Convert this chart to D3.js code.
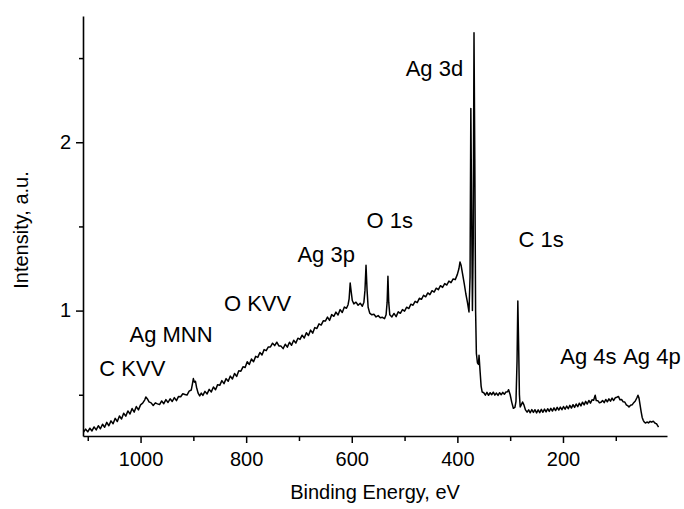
<!DOCTYPE html>
<html>
<head>
<meta charset="utf-8">
<script src="https://cdn.jsdelivr.net/npm/d3@7"></script>
<style>
  body { margin: 0; background: #fff; }
  svg { display: block; font-family: Arial, "Liberation Sans", sans-serif; }
</style>
</head>
<body>
<svg id="chart"></svg>
<script>
// XPS survey: [binding energy (eV), intensity (a.u.)]
const spectrum = [
  [1108, .279], [1104, .296], [1100, .280], [1096, .301], [1092, .285], [1088, .309], [1084, .291],
  [1080, .316], [1076, .298], [1072, .325], [1068, .307], [1064, .336], [1060, .316], [1056, .345],
  [1052, .328], [1048, .360], [1044, .341], [1040, .374], [1036, .356], [1032, .390], [1028, .373],
  [1024, .404], [1020, .386], [1016, .418], [1012, .397], [1008, .430], [1004, .410], [1000, .440],
  [996, .450], [992, .470], [990, .487], [987, .475], [984, .458], [980, .452], [976, .436],
  [972, .452], [968, .446], [964, .442], [960, .463], [956, .447], [952, .471], [948, .454],
  [944, .476], [940, .460], [936, .483], [932, .465], [928, .490], [924, .488], [920, .506],
  [916, .502], [912, .498], [908, .522], [904, .528], [902, .560], [900, .596], [898, .575],
  [896, .580], [894, .545], [891, .510], [888, .493], [885, .510], [882, .496], [878, .520],
  [874, .505], [870, .532], [866, .517], [862, .546], [858, .530], [854, .560], [850, .556],
  [846, .584], [842, .566], [838, .596], [834, .580], [830, .611], [826, .594], [822, .626],
  [818, .609], [814, .642], [810, .640], [806, .666], [802, .662], [798, .696], [794, .680],
  [790, .712], [786, .696], [782, .728], [778, .722], [774, .751], [770, .736], [766, .768],
  [762, .762], [758, .784], [754, .784], [750, .806], [746, .792], [742, .812], [738, .790],
  [734, .789], [730, .774], [726, .800], [722, .783], [718, .812], [714, .794], [710, .824],
  [706, .807], [702, .836], [698, .829], [694, .854], [690, .837], [686, .868], [682, .852],
  [678, .884], [674, .866], [670, .899], [666, .894], [662, .921], [658, .914], [654, .939],
  [650, .938], [646, .961], [642, .942], [638, .976], [634, .966], [630, .991], [626, .974],
  [622, 1.006], [618, .989], [614, 1.021], [610, 1.014], [607, 1.035], [605, 1.070], [603, 1.164],
  [601, 1.110], [599, 1.060], [596, 1.040], [592, 1.050], [588, 1.032], [584, 1.044], [580, 1.026],
  [577, 1.050], [575, 1.120], [573, 1.269], [571, 1.120], [569, 1.020], [566, .985], [562, .975],
  [558, .978], [554, .962], [550, .970], [546, .957], [542, .960], [538, .952], [535, .975],
  [533, 1.050], [531.5, 1.204], [530, 1.050], [528, .975], [524, .962], [520, .983], [516, .964],
  [512, .993], [508, .984], [504, 1.006], [500, .997], [496, 1.020], [492, 1.012], [488, 1.038],
  [484, 1.032], [480, 1.055], [476, 1.047], [472, 1.073], [468, 1.067], [464, 1.091], [460, 1.082],
  [456, 1.105], [452, 1.095], [448, 1.118], [444, 1.110], [440, 1.133], [436, 1.124], [432, 1.148],
  [428, 1.138], [424, 1.160], [420, 1.152], [416, 1.175], [412, 1.166], [408, 1.188], [404, 1.184],
  [400, 1.215], [397, 1.250], [395, 1.289], [393, 1.270], [390, 1.215], [387, 1.160], [384, 1.100],
  [381, 1.050], [378, .992], [376, 1.200], [374.5, 2.200], [373, 1.600], [371.5, 1.000], [370, 1.400],
  [368.5, 2.650], [367, 1.900], [365.5, 1.000], [364, .745], [362, .690], [360, .680], [359, .735],
  [357, .640], [355, .550], [353, .516], [350, .512], [347, .498], [344, .514], [341, .497],
  [338, .512], [335, .500], [332, .515], [329, .498], [326, .510], [323, .496], [320, .512],
  [317, .500], [314, .514], [311, .503], [308, .516], [305, .518], [303, .530], [300, .500],
  [297, .455], [294, .420], [291, .425], [289, .460], [287, .700], [285.5, 1.057], [284, .800],
  [282.5, .500], [281, .427], [279, .440], [276.5, .457], [274, .440], [271, .410], [268, .397],
  [265, .410], [262, .393], [259, .412], [256, .395], [253, .411], [250, .392], [247, .410],
  [244, .394], [241, .413], [238, .396], [235, .415], [232, .398], [229, .417], [226, .401],
  [223, .419], [220, .403], [217, .422], [214, .406], [211, .425], [208, .409], [205, .427],
  [202, .411], [199, .430], [196, .414], [193, .433], [190, .417], [187, .437], [184, .421],
  [181, .441], [178, .425], [175, .445], [172, .429], [169, .450], [166, .434], [163, .456],
  [160, .440], [157, .461], [154, .445], [151, .466], [148, .450], [145, .470], [142, .468],
  [139, .497], [137, .466], [134, .465], [131, .452], [128, .455], [125, .466], [122, .453],
  [119, .472], [116, .458], [113, .476], [110, .462], [107, .480], [104, .466], [101, .482],
  [98, .485], [95, .490], [92, .470], [89, .472], [86, .458], [83, .457], [80, .440],
  [77, .434], [75, .427], [72, .438], [69, .440], [66, .453], [63, .463], [60, .482],
  [58, .497], [56, .480], [54, .440], [52, .400], [50, .365], [48, .348], [46, .338],
  [44, .332], [41, .338], [38, .333], [35, .342], [32, .337], [29, .343], [27, .336],
  [25, .330], [23, .328], [21, .318], [19, .308]
];

// Peak annotations: text start position in data units (eV, a.u.)
const peakNames = ['C KVV', 'Ag MNN', 'O KVV', 'Ag 3p', 'O 1s', 'Ag 3d', 'C 1s', 'Ag 4s', 'Ag 4p'];
const peakLabelEnergy = [1078, 1021, 842, 703, 572, 498, 284, 205, 86];
const peakLabelHeight = [0.61, 0.813, 0.996, 1.289, 1.491, 2.392, 1.378, 0.685, 0.685];

const xMajorTicks = [1000, 800, 600, 400, 200];
const xMinorTicks = [1100, 900, 700, 500, 300, 100];
const yMajorTicks = [1, 2];
const yMinorTicks = [0.5, 1.5, 2.5];

class SurveyPlot {
  constructor(_config) {
    this.config = {
      parentElement: _config.parentElement,
      containerWidth: _config.containerWidth || 684,
      containerHeight: _config.containerHeight || 509,
      margin: _config.margin || {top: 16, right: 17, bottom: 73, left: 83}
    };
    this.initVis();
  }

  initVis() {
    let vis = this;
    vis.width = vis.config.containerWidth - vis.config.margin.left - vis.config.margin.right;
    vis.height = vis.config.containerHeight - vis.config.margin.top - vis.config.margin.bottom;

    // binding energy runs right to left
    vis.xScale = d3.scaleLinear().domain([1109, 3]).range([0, vis.width]);
    vis.yScale = d3.scaleLinear().domain([0.255, 2.75]).range([vis.height, 0]);

    vis.svg = d3.select(vis.config.parentElement)
      .attr('width', vis.config.containerWidth)
      .attr('height', vis.config.containerHeight);

    vis.chart = vis.svg.append('g')
      .attr('transform', `translate(${vis.config.margin.left},${vis.config.margin.top})`);

    vis.renderVis();
  }

  renderVis() {
    let vis = this;

    // minor ticks first, no labels
    vis.chart.append('g')
      .attr('transform', `translate(0,${vis.height})`)
      .call(d3.axisBottom(vis.xScale).tickValues(xMinorTicks).tickSize(5).tickFormat(''))
      .call(g => g.select('.domain').remove());
    vis.chart.append('g')
      .call(d3.axisLeft(vis.yScale).tickValues(yMinorTicks).tickSize(4).tickFormat(''))
      .call(g => g.select('.domain').remove());

    vis.xAxisG = vis.chart.append('g')
      .attr('transform', `translate(0,${vis.height})`)
      .call(d3.axisBottom(vis.xScale).tickValues(xMajorTicks).tickFormat(d3.format('d'))
        .tickSize(7).tickSizeOuter(0).tickPadding(9));
    vis.yAxisG = vis.chart.append('g')
      .call(d3.axisLeft(vis.yScale).tickValues(yMajorTicks).tickFormat(d3.format('d'))
        .tickSize(7).tickSizeOuter(0).tickPadding(5));

    vis.chart.selectAll('.tick line').attr('stroke', '#000').attr('stroke-width', 1.5);
    vis.chart.selectAll('.domain').attr('stroke', '#000').attr('stroke-width', 1.6);
    vis.chart.selectAll('.tick text')
      .attr('font-family', 'Arial, "Liberation Sans", sans-serif')
      .attr('font-size', 20)
      .attr('fill', '#000');

    // spectrum
    const line = d3.line()
      .x(d => vis.xScale(d[0]))
      .y(d => vis.yScale(d[1]));
    vis.chart.append('path')
      .datum(spectrum)
      .attr('fill', 'none')
      .attr('stroke', '#000')
      .attr('stroke-width', 1.5)
      .attr('stroke-linejoin', 'round')
      .attr('d', line);

    // peak labels
    vis.chart.selectAll('.peak-label')
      .data(peakNames)
      .enter()
      .append('text')
      .attr('class', 'peak-label')
      .attr('x', (d, i) => vis.xScale(peakLabelEnergy[i]))
      .attr('y', (d, i) => vis.yScale(peakLabelHeight[i]))
      .attr('font-size', 22)
      .attr('fill', '#000')
      .text(d => d);

    // axis titles
    vis.svg.append('text')
      .attr('x', vis.config.margin.left + vis.width / 2)
      .attr('y', 499)
      .attr('text-anchor', 'middle')
      .attr('font-size', 20)
      .text('Binding Energy, eV');

    vis.svg.append('text')
      .attr('transform', `translate(28,${vis.config.margin.top + vis.height / 2 + 4}) rotate(-90)`)
      .attr('text-anchor', 'middle')
      .attr('font-size', 20)
      .text('Intensity, a.u.');
  }
}

new SurveyPlot({parentElement: '#chart'});
</script>
</body>
</html>
